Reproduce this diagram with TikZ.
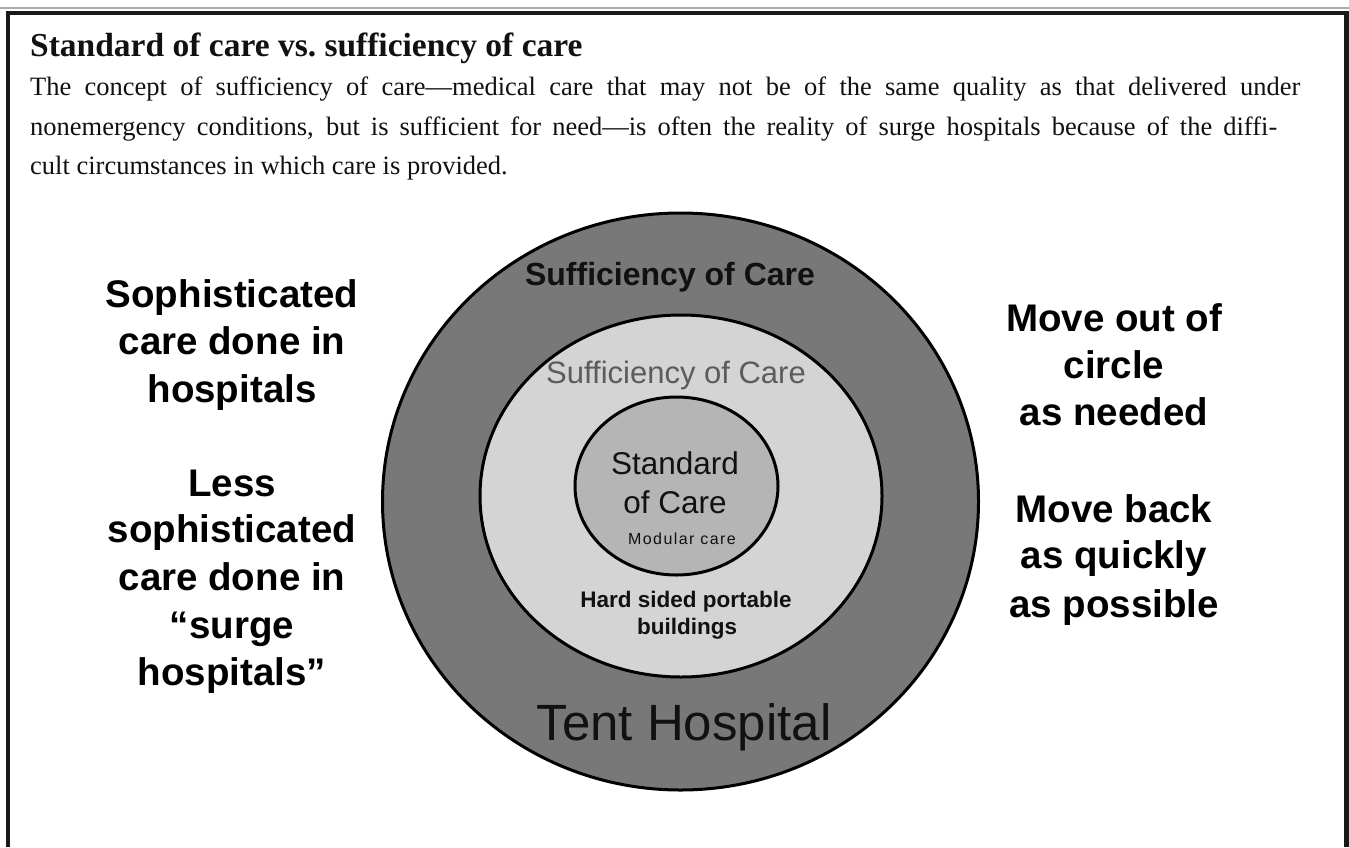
\documentclass[tikz,border=0pt]{standalone}
\usepackage{fontspec}
\newfontfamily\serifx{Liberation Serif}
\newfontfamily\arialx{Liberation Sans}
\newfontfamily\arialspaced{Liberation Sans}[LetterSpace=9]
\definecolor{ringdark}{HTML}{787878}
\definecolor{ringlight}{HTML}{D4D4D4}
\definecolor{core}{HTML}{B5B5B5}
\definecolor{midtext}{HTML}{5C5C5C}
\definecolor{framegray}{HTML}{AAAAAA}
\definecolor{ink}{HTML}{111111}
\begin{document}
\begin{tikzpicture}[x=1pt,y=-1pt,
  titletext/.style={font=\serifx\bfseries\fontsize{33.5}{38}\selectfont, anchor=base west, inner sep=0, text=ink},
  bodytext/.style={font=\serifx\fontsize{26.5}{40}\selectfont, anchor=base west, inner sep=0, text=ink},
  sidetext/.style={font=\arialx\bfseries\fontsize{38.5}{47}\selectfont, anchor=base, inner sep=0, text=black},
  ring/.style={draw=black, line width=3pt},
  lbl/.style={anchor=base, inner sep=0}
]
\useasboundingbox (0,0) rectangle (1349,847);
\fill[white] (0,0) rectangle (1349,847);
% frame
\draw[framegray, line width=1.5pt] (0,8) -- (1349,8);
\coordinate (tl) at (8,12.8);
\coordinate (tr) at (1346.3,12.8);
\coordinate (bl) at (8,847);
\coordinate (br) at (1346.3,847);
\draw[black!90, line width=4.6pt, line join=miter] (bl) -- (tl) -- (tr) -- (br);
% header
\node[titletext] (title) at (30,56) {Standard of care vs.\ sufficiency of care};
\node[bodytext] (b1) at (30,95) {\makebox[1270pt][s]{The concept of sufficiency of care—medical care that may not be of the same quality as that delivered under}};
\node[bodytext] (b2) at (30,135) {\makebox[1247pt][s]{nonemergency conditions, but is sufficient for need—is often the reality of surge hospitals because of the diffi-}};
\node[bodytext] (b3) at (30,174) {cult circumstances in which care is provided.};
% circles
\draw[ring, fill=ringdark] (680.5,501.5) ellipse [x radius=298, y radius=288.5];
\node[inner sep=0, minimum size=0] (outer) at (680.5,501.5) {};
\draw[ring, fill=ringlight] (681,496) ellipse [x radius=201, y radius=181];
\node[inner sep=0, minimum size=0] (middle) at (681,496) {};
\draw[ring, fill=core] (676.5,486) ellipse [x radius=101.5, y radius=89];
\node[inner sep=0, minimum size=0] (inner) at (676.5,486) {};
% labels in circles
\node[lbl, font=\arialx\bfseries\fontsize{32}{36}\selectfont, text=ink] (suff1) at (670,285) {Sufficiency of Care};
\node[lbl, font=\arialx\fontsize{31}{36}\selectfont, text=midtext] (suff2) at (676,383) {Sufficiency of Care};
\node[lbl, font=\arialx\fontsize{31.5}{36}\selectfont, text=ink] (std1) at (675,474) {Standard};
\node[lbl, font=\arialx\fontsize{31.5}{36}\selectfont, text=ink] (std2) at (675,513) {of Care};
\node[lbl, font=\arialspaced\fontsize{16}{18}\selectfont, text=ink] (mod) at (682,544) {Modular care};
\node[lbl, font=\arialx\bfseries\fontsize{22.5}{26}\selectfont, text=ink] (hard1) at (686,607) {Hard sided portable};
\node[lbl, font=\arialx\bfseries\fontsize{22.5}{26}\selectfont, text=ink] (hard2) at (687,634) {buildings};
\node[lbl, font=\arialx\fontsize{51}{56}\selectfont, text=ink] (tent) at (684,740) {Tent Hospital};
% left side
\node[sidetext] (l1) at (232,307) {Sophisticated};
\node[sidetext] (l2) at (232,354) {care done in};
\node[sidetext] (l3) at (232,402) {hospitals};
\node[sidetext] (l4) at (232,496) {Less};
\node[sidetext] (l5) at (232,542) {sophisticated};
\node[sidetext] (l6) at (232,590) {care done in};
\node[sidetext] (l7) at (232,638) {“surge};
\node[sidetext] (l8) at (232,685) {hospitals”};
% right side
\node[sidetext] (r1) at (1114,331) {Move out of};
\node[sidetext] (r2) at (1114,378) {circle};
\node[sidetext] (r3) at (1114,425) {as needed};
\node[sidetext] (r4) at (1114,522) {Move back};
\node[sidetext] (r5) at (1114,568) {as quickly};
\node[sidetext] (r6) at (1114,617) {as possible};
\end{tikzpicture}
\end{document}
